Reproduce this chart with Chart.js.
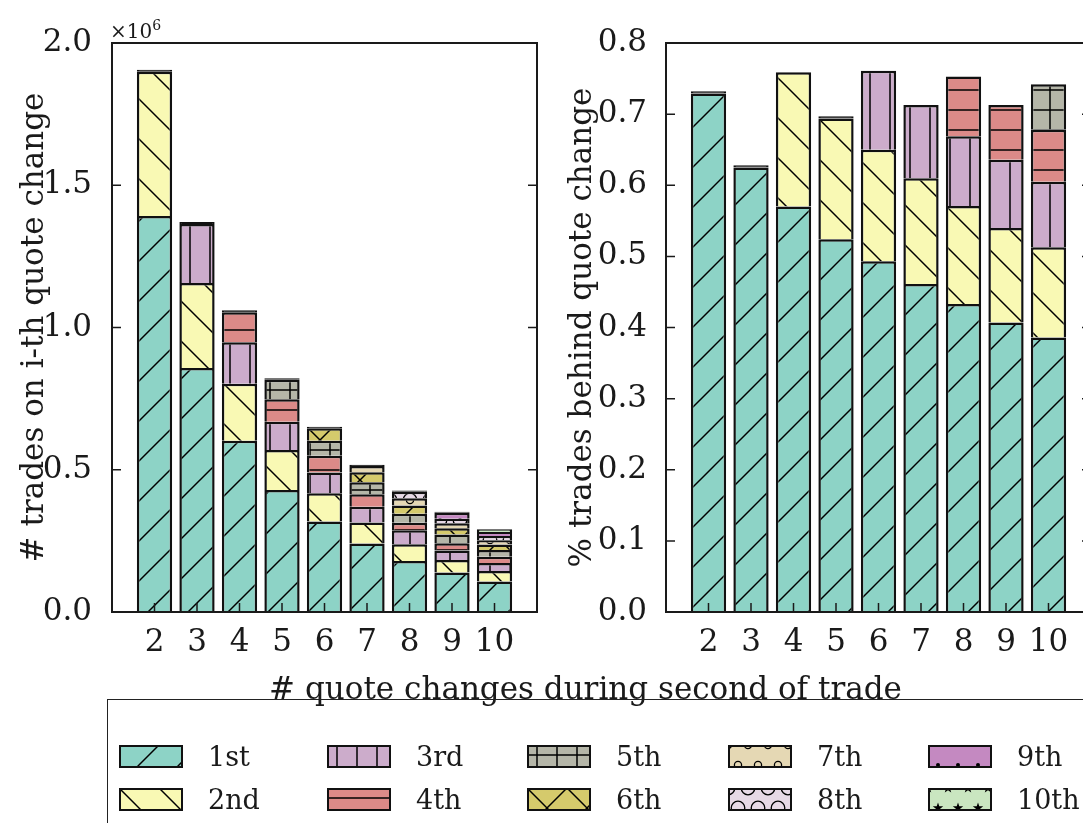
<!DOCTYPE html>
<html>
<head>
<meta charset="utf-8">
<title>Trades on quote changes</title>
<script src="https://cdn.jsdelivr.net/npm/chart.js@4.4.1/dist/chart.umd.min.js"></script>
<style>
  html, body { margin: 0; padding: 0; background: #fff; }
  #page { position: relative; width: 1083px; height: 823px; overflow: hidden;
          font-family: 'DejaVu Serif', serif; color: #1a1a1a; }
  #countChart { position: absolute; left: 0; top: 0; }
  #shareChart { position: absolute; left: 540px; top: 0; }
  #mult { position: absolute; left: 110px; top: 13px; font-size: 20px; line-height: 24px; }
  #mult sup { font-size: 14px; }
  #xTitle { position: absolute; left: 0; width: 1171px; top: 668px; text-align: center;
            font-size: 31px; line-height: 40px; }
  #legendFrame { position: absolute; left: 107px; top: 699px; width: 1100px; height: 200px;
                 border: 1.5px solid #222; }
  .item { position: absolute; display: flex; align-items: center; height: 23px; }
  .item canvas { display: block; }
  .item span { margin-left: 25px; font-size: 27px; line-height: 30px; }
</style>
</head>
<body>
<div id="page">
  <canvas id="countChart" width="560" height="680"></canvas>
  <canvas id="shareChart" width="580" height="680"></canvas>
  <div id="mult">&times;10<sup>6</sup></div>
  <div id="xTitle"># quote changes during second of trade</div>
  <div id="legendFrame"></div>
</div>
<script>
// number of quote changes within the second of the trade
const quoteChanges = [2, 3, 4, 5, 6, 7, 8, 9, 10];
const rankLabels = ['1st', '2nd', '3rd', '4th', '5th', '6th', '7th', '8th', '9th', '10th'];

// trades executed on the i-th quote change
const trades1st  = [1392000, 858000, 602000, 429000, 318000, 241000, 179000, 139000, 107000];
const trades2nd  = [507000, 298000, 200000, 140000, 99000, 74000, 59000, 44000, 37000];
const trades3rd  = [7000, 208000, 146000, 100000, 73000, 55000, 49000, 33000, 28000];
const trades4th  = [0, 7000, 106000, 79000, 59000, 44000, 27000, 26000, 22000];
const trades5th  = [0, 0, 7000, 68000, 53000, 42000, 31000, 30000, 24000];
const trades6th  = [0, 0, 0, 6000, 44000, 35000, 29000, 22000, 19000];
const trades7th  = [0, 0, 0, 0, 5000, 22000, 26000, 18000, 15000];
const trades8th  = [0, 0, 0, 0, 0, 5000, 23000, 16000, 15000];
const trades9th  = [0, 0, 0, 0, 0, 0, 4000, 21000, 14000];
const trades10th = [0, 0, 0, 0, 0, 0, 0, 3000, 10000];

// share of trades that are behind the i-th quote change
const share1st = [0.729, 0.625, 0.570, 0.524, 0.493, 0.461, 0.433, 0.407, 0.386];
const share2nd = [0.003, 0.003, 0.189, 0.170, 0.157, 0.149, 0.138, 0.133, 0.127];
const share3rd = [0, 0, 0, 0.003, 0.111, 0.103, 0.098, 0.096, 0.092];
const share4th = [0, 0, 0, 0, 0, 0, 0.084, 0.077, 0.073];
const share5th = [0, 0, 0, 0, 0, 0, 0, 0, 0.064];

const countTicks = [0, 500000, 1000000, 1500000, 2000000];
const shareTicks = [0, 0.1, 0.2, 0.3, 0.4, 0.5, 0.6, 0.7, 0.8];

const rankColors = ['#8dd3c6', '#f9f9b4', '#ccaccb', '#dc8a88', '#b5b6a8',
                    '#d5ca6c', '#e5d8b4', '#e7d9e6', '#c489c1', '#c9e6c0'];
const rankHatches = ['/', '\\', '|', '-', '+', 'x', 'o', 'O', '.', '*'];

const ink = '#1a1a1a';
const edge = '#111';
const serif = "'DejaVu Serif', serif";
const tickFont = { family: serif, size: 31 };

// matplotlib-like hatch fills, 40px tile
function hatchFill(ctx, color, hatch) {
  const S = 40;
  const tile = document.createElement('canvas');
  tile.width = S; tile.height = S;
  const t = tile.getContext('2d');
  t.fillStyle = color;
  t.fillRect(0, 0, S, S);
  t.strokeStyle = '#000';
  t.fillStyle = '#000';
  t.lineWidth = 1.5;
  const line = (x1, y1, x2, y2) => { t.beginPath(); t.moveTo(x1, y1); t.lineTo(x2, y2); t.stroke(); };
  if (hatch === '/' || hatch === 'x') {
    line(-2, S + 2, S + 2, -2); line(-2, 2, 2, -2); line(S - 2, S + 2, S + 2, S - 2);
  }
  if (hatch === '\\' || hatch === 'x') {
    line(-2, -2, S + 2, S + 2); line(S - 2, -2, S + 2, 2); line(-2, S - 2, 2, S + 2);
  }
  if (hatch === '|' || hatch === '+') { line(10, 0, 10, S); line(30, 0, 30, S); }
  if (hatch === '-' || hatch === '+') { line(0, 10, S, 10); line(0, 30, S, 30); }
  // staggered grid used by the shape hatches
  const spots = [[0, 0], [20, 0], [40, 0], [10, 20], [30, 20], [0, 40], [20, 40], [40, 40]];
  const star = (cx, cy, ro, ri) => {
    t.beginPath();
    for (let k = 0; k < 10; k++) {
      const r = k % 2 ? ri : ro;
      const a = -Math.PI / 2 + k * Math.PI / 5;
      t.lineTo(cx + r * Math.cos(a), cy + r * Math.sin(a));
    }
    t.closePath(); t.fill();
  };
  spots.forEach(([cx, cy]) => {
    if (hatch === 'o' || hatch === 'O') {
      t.lineWidth = 1.3;
      t.beginPath(); t.arc(cx, cy, hatch === 'o' ? 3.6 : 6.8, 0, Math.PI * 2); t.stroke();
    } else if (hatch === '.') {
      t.beginPath(); t.arc(cx, cy, 2, 0, Math.PI * 2); t.fill();
    } else if (hatch === '*') {
      star(cx, cy, 5.5, 2.2);
    }
  });
  return ctx.createPattern(tile, 'repeat');
}

// axes frame plus inward tick marks, drawn over the bars
const frameTicks = {
  id: 'frameTicks',
  afterDatasetsDraw(chart) {
    const { ctx, chartArea: a, scales: { x, y } } = chart;
    ctx.save();
    ctx.strokeStyle = ink;
    ctx.lineWidth = 1.5;
    ctx.beginPath();
    y.ticks.forEach(tk => {
      const py = y.getPixelForValue(tk.value);
      ctx.moveTo(a.left, py); ctx.lineTo(a.left + 9, py);
      ctx.moveTo(a.right, py); ctx.lineTo(a.right - 9, py);
    });
    x.ticks.forEach(tk => {
      const px = x.getPixelForValue(tk.value);
      ctx.moveTo(px, a.bottom); ctx.lineTo(px, a.bottom - 9);
    });
    ctx.stroke();
    ctx.lineWidth = 2;
    ctx.strokeRect(a.left, a.top, a.right - a.left, a.bottom - a.top);
    ctx.restore();
  }
};

function stackedSets(ctx, series, axisMax) {
  return series.map((vals, i) => {
    const fill = hatchFill(ctx, rankColors[i], rankHatches[i]);
    return {
      label: rankLabels[i],
      data: quoteChanges.map((q, j) => ({ x: q, y: vals[j] || null })),
      // slivers only a couple of pixels tall read as a solid edge
      backgroundColor: c => (c.raw && c.raw.y / axisMax < 0.005 ? edge : fill),
      borderColor: edge,
      borderWidth: 2.5,
      categoryPercentage: 1,
      barPercentage: 0.83
    };
  });
}

function chartOptions(cfg) {
  return {
    responsive: false,
    animation: false,
    events: [],
    layout: { padding: { top: 43, right: cfg.padRight, left: 0, bottom: 0 } },
    plugins: { legend: { display: false }, tooltip: { enabled: false } },
    scales: {
      x: {
        type: 'linear', min: 1, max: 11, offset: false, stacked: true,
        grid: { display: false }, border: { display: false },
        afterBuildTicks: s => { s.ticks = quoteChanges.map(v => ({ value: v })); },
        afterFit: s => { s.height = 68; },
        ticks: { autoSkip: false, maxRotation: 0, padding: 4, color: ink, font: tickFont,
                 callback: v => String(v) }
      },
      y: {
        min: 0, max: cfg.ticks[cfg.ticks.length - 1], stacked: true,
        grid: { display: false }, border: { display: false },
        afterBuildTicks: s => { s.ticks = cfg.ticks.map(v => ({ value: v })); },
        afterFit: s => { s.width = cfg.yWidth; },
        ticks: { autoSkip: false, padding: cfg.tickPad, color: ink, font: tickFont, callback: cfg.yFmt },
        title: { display: true, text: cfg.yTitle, color: ink, font: tickFont,
                 padding: { top: cfg.titlePad, bottom: 0 } }
      }
    }
  };
}

const countCtx = document.getElementById('countChart').getContext('2d');
new Chart(countCtx, {
  type: 'bar',
  data: {
    datasets: stackedSets(countCtx, [trades1st, trades2nd, trades3rd, trades4th, trades5th,
                                     trades6th, trades7th, trades8th, trades9th, trades10th],
                          countTicks[countTicks.length - 1])
  },
  options: chartOptions({
    ticks: countTicks, yWidth: 112, tickPad: 12, titlePad: 16, padRight: 23,
    yTitle: '# trades on i-th quote change',
    yFmt: v => (v / 1e6).toFixed(1)
  }),
  plugins: [frameTicks]
});

const shareCtx = document.getElementById('shareChart').getContext('2d');
new Chart(shareCtx, {
  type: 'bar',
  data: {
    datasets: stackedSets(shareCtx, [share1st, share2nd, share3rd, share4th, share5th],
                          shareTicks[shareTicks.length - 1])
  },
  options: chartOptions({
    ticks: shareTicks, yWidth: 126, tickPad: 11, titlePad: 24, padRight: 29,
    yTitle: '% trades behind quote change',
    yFmt: v => v.toFixed(1)
  }),
  plugins: [frameTicks]
});

// legend: two rows, five columns
const legendCols = [119, 327, 527, 728, 928];
const legendRows = [745, 788];
const page = document.getElementById('page');
rankLabels.forEach((label, i) => {
  const item = document.createElement('div');
  item.className = 'item';
  item.style.left = legendCols[Math.floor(i / 2)] + 'px';
  item.style.top = legendRows[i % 2] + 'px';
  const swatch = document.createElement('canvas');
  swatch.width = 64; swatch.height = 23;
  const c = swatch.getContext('2d');
  c.fillStyle = hatchFill(c, rankColors[i], rankHatches[i]);
  c.fillRect(0, 0, 64, 23);
  c.lineWidth = 2;
  c.strokeStyle = edge;
  c.strokeRect(1, 1, 62, 21);
  const text = document.createElement('span');
  text.textContent = label;
  item.append(swatch, text);
  page.append(item);
});
</script>
</body>
</html>
